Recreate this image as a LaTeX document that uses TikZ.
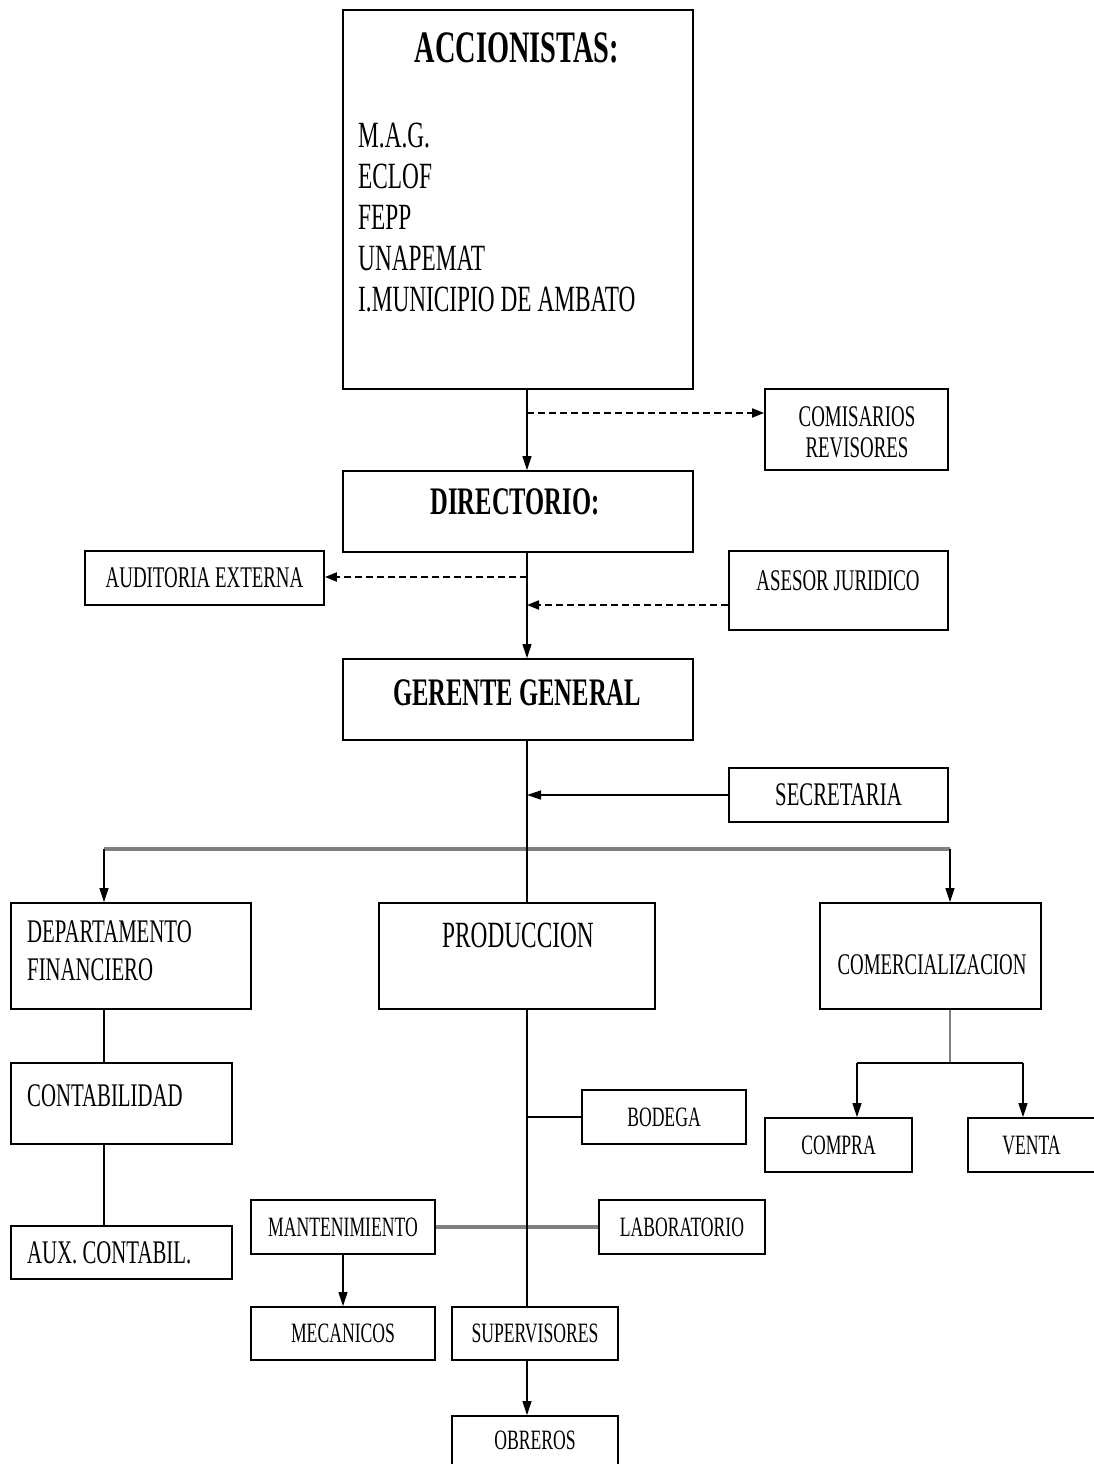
\documentclass[tikz,border=0pt]{standalone}
\usepackage{fontspec}
\newfontfamily\cond[FakeStretch=0.63]{Liberation Serif}
\usetikzlibrary{arrows.meta}

\tikzset{
  box/.style={draw, line width=1.8pt, inner sep=0pt, font=\cond\fontsize{28}{30}\selectfont},
  lbl/.style={inner sep=0pt, font=\cond\fontsize{28}{30}\selectfont},
  line/.style={line width=1.3pt},
  arr/.style={line width=1.3pt, -{Triangle[length=14pt,width=9pt]}},
  dasharr/.style={line width=2pt, dash pattern=on 7pt off 4pt, -{Triangle[length=12pt,width=9pt]}},
  busline/.style={line width=4pt, gray},
  grayline/.style={line width=2.5pt, gray}
}
\newcommand{\fsz}[1]{\fontsize{#1}{#1}\selectfont}

\begin{document}
\begin{tikzpicture}[x=1pt,y=-1pt]
\useasboundingbox (0,0) rectangle (1093,1464);

% Boxes
\node[box, minimum width=350, minimum height=379] (acc) at (518,199.5) {};
\node[box, minimum width=183, minimum height=81] (com) at (856.5,429.5) {};
\node[box, minimum width=350, minimum height=81] (dir) at (518,511.5) {};
\node[box, minimum width=239, minimum height=54, font=\cond\fsz{30}] (aud) at (204.5,578) {AUDITORIA EXTERNA};
\node[box, minimum width=219, minimum height=79] (ase) at (838.5,590.5) {};
\node[box, minimum width=350, minimum height=81] (ger) at (518,699.5) {};
\node[box, minimum width=219, minimum height=54, font=\cond\fsz{33}] (sec) at (838.5,795) {SECRETARIA};
\node[box, minimum width=240, minimum height=106] (dep) at (131,956) {};
\node[box, minimum width=276, minimum height=106] (pro) at (517,956) {};
\node[box, minimum width=221, minimum height=106] (cmz) at (930.5,956) {};
\node[box, minimum width=221, minimum height=81] (cont) at (121.5,1103.5) {};
\node[box, minimum width=221, minimum height=53] (aux) at (121.5,1252.5) {};
\node[box, minimum width=164, minimum height=54] (bod) at (664,1117) {BODEGA};
\node[box, minimum width=147, minimum height=54] (compra) at (838.5,1145) {COMPRA};
\node[box, minimum width=127, minimum height=54] (venta) at (1031.5,1145) {VENTA};
\node[box, minimum width=184, minimum height=54] (mant) at (343,1227) {MANTENIMIENTO};
\node[box, minimum width=166, minimum height=54] (lab) at (682,1227) {LABORATORIO};
\node[box, minimum width=184, minimum height=53] (mec) at (343,1333.5) {MECANICOS};
\node[box, minimum width=166, minimum height=53] (sup) at (535,1333.5) {SUPERVISORES};
\node[box, minimum width=166, minimum height=74] (obr) at (535,1453) {};

% Labels
\node[lbl, font=\cond\bfseries\fsz{45}] (accT) at (517,48) {ACCIONISTAS:};
\node[lbl, anchor=north west, align=left, font=\cond\fontsize{37}{41}\selectfont] (accL) at (358,123)
  {M.A.G.\\ECLOF\\FEPP\\UNAPEMAT\\I.MUNICIPIO DE AMBATO};
\node[lbl, align=center, font=\cond\fontsize{30}{31}\selectfont] (comL) at (857,432) {COMISARIOS\\REVISORES};
\node[lbl, font=\cond\bfseries\fsz{39}] (dirL) at (515,502) {DIRECTORIO:};
\node[lbl, font=\cond\fsz{30}] (aseL) at (838,581) {ASESOR JURIDICO};
\node[lbl, font=\cond\bfseries\fsz{39}] (gerL) at (517,693) {GERENTE GENERAL};
\node[lbl, anchor=north west, align=left, font=\cond\fontsize{33}{38}\selectfont] (depL) at (27,920) {DEPARTAMENTO\\FINANCIERO};
\node[lbl, font=\cond\fsz{37}] (proL) at (518,935) {PRODUCCION};
\node[lbl, font=\cond\fsz{30}] (cmzL) at (932,965) {COMERCIALIZACION};
\node[lbl, anchor=west, font=\cond\fsz{33}] (contL) at (27,1096) {CONTABILIDAD};
\node[lbl, anchor=west, font=\cond\fsz{33}] (auxL) at (27,1253) {AUX. CONTABIL.};
\node[lbl] (obrL) at (535,1440) {OBREROS};

% Guide points
\coordinate (spine) at (527,0);
\coordinate (lcol) at (104,0);
\coordinate (rcol) at (950,0);
\coordinate (bus) at (0,849);
\coordinate (t1) at (527,413);
\coordinate (t2) at (527,577);
\coordinate (t3) at (527,605);
\coordinate (cbr) at (857,1063);
\coordinate (vbr) at (1023,1063);

% Connectors
\draw[busline] (bus -| lcol) -- (bus -| rcol);
\draw[busline] (mant.east) -- (lab.west);
\draw[grayline] (cmz.south -| rcol) -- (cbr -| rcol);
\draw[arr] (acc.south -| spine) -- (dir.north -| spine);
\draw[dasharr] (t1) -- (t1 -| com.west);
\draw[arr] (dir.south -| spine) -- (ger.north -| spine);
\draw[dasharr] (t2) -- (t2 -| aud.east);
\draw[dasharr] (t3 -| ase.west) -- (t3);
\draw[line] (ger.south -| spine) -- (pro.north -| spine);
\draw[arr] (sec.west) -- (sec.west -| spine);
\draw[arr] (bus -| lcol) -- (dep.north -| lcol);
\draw[arr] (bus -| rcol) -- (cmz.north -| rcol);
\draw[line] (dep.south -| lcol) -- (cont.north -| lcol);
\draw[line] (cont.south -| lcol) -- (aux.north -| lcol);
\draw[line] (pro.south -| spine) -- (sup.north -| spine);
\draw[line] (bod.west -| spine) -- (bod.west);
\draw[arr] (mant.south) -- (mec.north);
\draw[arr] (sup.south -| spine) -- (obr.north -| spine);
\draw[line] (cbr) -- (vbr);
\draw[arr] (cbr) -- (cbr |- compra.north);
\draw[arr] (vbr) -- (vbr |- venta.north);
\end{tikzpicture}
\end{document}
